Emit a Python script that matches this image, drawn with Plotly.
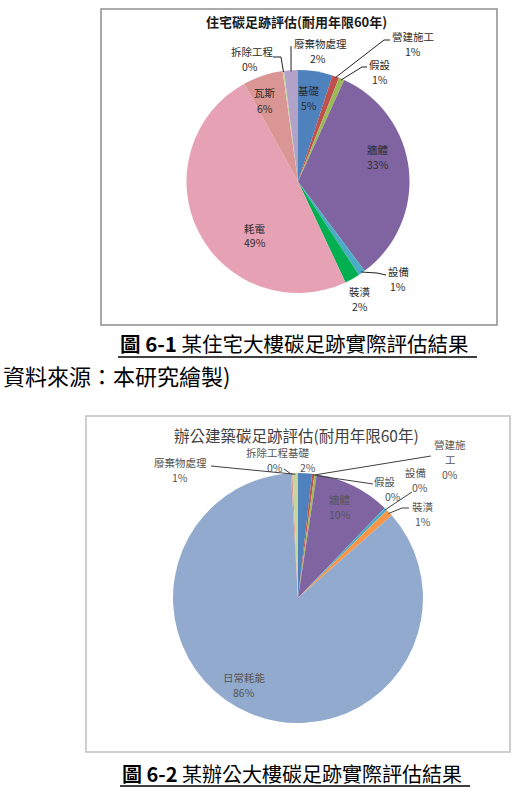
import math
import plotly.graph_objects as go

W, H = 519, 802

# ---------------- data ----------------
labels1 = ['基礎', '營建施工', '假設', '牆體', '設備', '裝潢', '耗電', '瓦斯', '拆除工程', '廢棄物處理']
values1 = [5.0, 1.0, 0.8, 33.0, 1.0, 2.2, 49.0, 5.8, 0.2, 2.0]
colors1 = ['#4F81BD', '#C0504D', '#9BBB59', '#8064A2', '#4BACC6', '#00B050',
           '#E6A1B4', '#D99694', '#C3D69B', '#B3A2C7']
title1 = '住宅碳足跡評估(耐用年限60年)'

labels2 = ['基礎', '營建施工', '假設', '牆體', '設備', '裝潢', '日常耗能', '拆除工程', '廢棄物處理']
values2 = [1.8, 0.3, 0.3, 9.8, 0.4, 0.9, 85.6, 0.2, 0.7]
colors2 = ['#4F81BD', '#C0504D', '#9BBB59', '#8064A2', '#4BACC6', '#F79646',
           '#93AACF', '#D99694', '#C3D69B']
title2 = '辦公建築碳足跡評估(耐用年限60年)'

caption1_num = '圖 6-1'
caption1 = '某住宅大樓碳足跡實際評估結果'
source1 = '資料來源：本研究繪製)'
caption2_num = '圖 6-2'
caption2 = '某辦公大樓碳足跡實際評估結果'

# ---------------- layout (pixel positions) ----------------
FONT = 'Noto Sans CJK TC, Noto Sans, sans-serif'
pie1 = dict(cx=298, cy=181.5, r=111.5)
pie2 = dict(cx=298, cy=598, r=125)

# label line positions: name line (x, y), percent line (x, y)
pos1 = {'基礎': ((309, 91), (309, 106)), '營建施工': ((413, 37), (413, 52)),
        '假設': ((380, 64), (380, 79)), '牆體': ((378, 149), (378, 164)),
        '設備': ((398, 271), (398, 286)), '裝潢': ((360, 291), (360, 306)),
        '耗電': ((255, 228), (255, 243)), '瓦斯': ((265, 93), (265, 108)),
        '拆除工程': ((252, 52), (250, 67)), '廢棄物處理': ((320, 43), (318, 58))}
pos2 = {'基礎': ((299, 453), (308, 468)), '營建施工': ((450, 444), (450, 474)),
        '假設': ((385, 481), (393, 496)), '牆體': ((340, 499), (340, 514)),
        '設備': ((415, 472), (420, 487)), '裝潢': ((423, 506), (423, 521)),
        '日常耗能': ((244, 677), (244, 692)), '拆除工程': ((267, 453), (275, 468)),
        '廢棄物處理': ((180, 463), (180, 478))}
wrap2 = {'營建施工': '營建施<br>工'}

# leader line start points (end point = slice edge, computed from data)
lead1 = {'營建施工': [(390, 40), (384, 40)], '假設': [(367, 67), (362, 67)],
         '設備': [(386, 275), (377, 273)], '拆除工程': [(273, 57), (281, 57)],
         '廢棄物處理': [(291, 46)]}
lead2 = {'營建施工': [(431, 456)], '假設': [(373, 484)], '設備': [(412, 492)],
         '裝潢': [(409, 508), (402, 508)], '拆除工程': [(284, 469)],
         '廢棄物處理': [(211, 466)]}


def X(px):
    return px / W


def Y(py):
    return 1 - py / H


def edge_points(values, pie):
    tot = sum(values)
    pts = []
    cum = 0
    for v in values:
        f = (cum + v / 2) / tot
        th = 2 * math.pi * f
        rr = pie['r'] * 0.99
        pts.append((pie['cx'] + rr * math.sin(th), pie['cy'] - rr * math.cos(th)))
        cum += v
    return pts


def pct_text(values):
    tot = sum(values)
    return [f"{round(v / tot * 100):.0f}%" for v in values]


fig = go.Figure()

for labels, values, colors, pie in [(labels1, values1, colors1, pie1),
                                    (labels2, values2, colors2, pie2)]:
    fig.add_trace(go.Pie(
        labels=labels, values=values, sort=False, direction='clockwise', rotation=0,
        marker=dict(colors=colors, line=dict(width=0)),
        textinfo='none', showlegend=False,
        domain=dict(x=[X(pie['cx'] - pie['r']), X(pie['cx'] + pie['r'])],
                    y=[Y(pie['cy'] + pie['r']), Y(pie['cy'] - pie['r'])]),
    ))

shapes = []
annotations = []


def txt(text, px, py, size, color, xanchor='center'):
    annotations.append(dict(text=text, x=X(px), y=Y(py), xref='paper', yref='paper',
                            showarrow=False, xanchor=xanchor, yanchor='middle',
                            font=dict(family=FONT, size=size, color=color)))


# frames
shapes.append(dict(type='rect', xref='paper', yref='paper', x0=X(101), x1=X(497), y0=Y(325), y1=Y(9),
                   line=dict(color='#8f8f8f', width=1.5), layer='below'))
shapes.append(dict(type='rect', xref='paper', yref='paper', x0=X(86), x1=X(510), y0=Y(752), y1=Y(416),
                   line=dict(color='#cfcfcf', width=2), layer='below'))

# titles
txt('<b>' + title1 + '</b>', 296, 22, 13, '#1a1a1a')
txt(title2, 296, 435, 15.5, '#404040')

# slice labels + leader lines
for labels, values, pie, pos, lead, wrap, col, lcol in [
        (labels1, values1, pie1, pos1, lead1, {}, '#2b2b2b', '#222222'),
        (labels2, values2, pie2, pos2, lead2, wrap2, '#555555', '#404040')]:
    pts = edge_points(values, pie)
    pcts = pct_text(values)
    for i, lab in enumerate(labels):
        (nx, ny), (qx, qy) = pos[lab]
        name = wrap.get(lab, lab)
        parts = name.split('<br>')
        for k, part in enumerate(parts):
            txt(part, nx, ny + 15 * k, 10.5, col)
        txt(pcts[i], qx, qy, 10.5, col)
        if lab in lead:
            path_pts = lead[lab] + [pts[i]]
            d = 'M ' + ' L '.join(f'{X(a):.5f},{Y(b):.5f}' for a, b in path_pts)
            shapes.append(dict(type='path', xref='paper', yref='paper', path=d,
                               line=dict(color=lcol, width=1)))

# captions
txt('<b>' + caption1_num + '</b> ' + caption1, 118, 343, 20.5, '#000000', xanchor='left')
shapes.append(dict(type='line', xref='paper', yref='paper', x0=X(118), x1=X(477), y0=Y(357), y1=Y(357),
                   line=dict(color='#000000', width=1.5)))
txt(source1, 1, 375, 22, '#000000', xanchor='left')
txt('<b>' + caption2_num + '</b> ' + caption2, 120, 773, 20, '#000000', xanchor='left')
shapes.append(dict(type='line', xref='paper', yref='paper', x0=X(120), x1=X(470), y0=Y(786), y1=Y(786),
                   line=dict(color='#000000', width=1.5)))

fig.update_layout(width=W, height=H, margin=dict(l=0, r=0, t=0, b=0),
                  paper_bgcolor='white', plot_bgcolor='white',
                  shapes=shapes, annotations=annotations)

fig.write_html('out.html')
